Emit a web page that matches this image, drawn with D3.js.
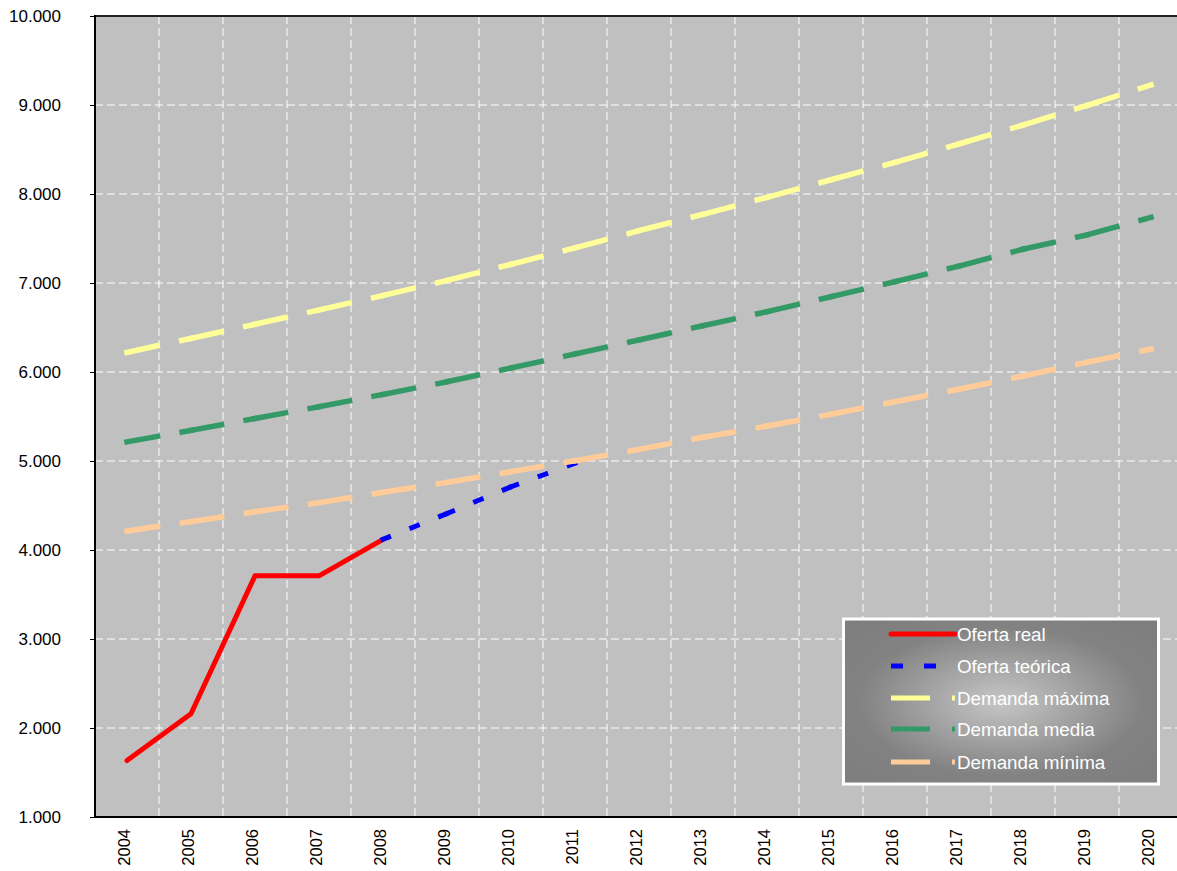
<!DOCTYPE html>
<html>
<head>
<meta charset="utf-8">
<script src="https://cdn.jsdelivr.net/npm/d3@7"></script>
<style>
  body { margin: 0; background: #fff; }
  svg { display: block; font-family: Arial, "Liberation Sans", sans-serif; }
</style>
</head>
<body>
<svg id="chart" width="1177" height="871"></svg>
<script>
// years on the category axis
const years = [2004, 2005, 2006, 2007, 2008, 2009, 2010, 2011, 2012, 2013, 2014, 2015, 2016, 2017, 2018, 2019, 2020];
const yTicks = [1000, 2000, 3000, 4000, 5000, 6000, 7000, 8000, 9000, 10000];

// series values (null = no value)
const ofertaReal = [1635, 2160, 3710, 3710, 4120, null, null, null, null, null, null, null, null, null, null, null, null];
const ofertaTeorica = [null, null, null, null, 4120, 4410, 4710, 4975, null, null, null, null, null, null, null, null, null];
const demandaMaxima = [6220, 6378, 6536, 6697, 6860, 7028, 7210, 7395, 7588, 7772, 7963, 8160, 8355, 8562, 8775, 8995, 9225];
const demandaMedia = [5215, 5344, 5478, 5610, 5748, 5890, 6045, 6202, 6360, 6520, 6678, 6846, 7015, 7190, 7380, 7540, 7738];
const demandaMinima = [4213, 4318, 4430, 4532, 4648, 4760, 4880, 5002, 5131, 5266, 5393, 5525, 5666, 5806, 5955, 6110, 6258];

const seriesNames = ['Oferta real', 'Oferta teórica', 'Demanda máxima', 'Demanda media', 'Demanda mínima'];

const series = [
    { name: seriesNames[0], values: ofertaReal, color: '#ff0000', width: 5, dash: null },
    { name: seriesNames[1], values: ofertaTeorica, color: '#0000ff', width: 5, dash: '6,25' },
    { name: seriesNames[2], values: demandaMaxima, color: '#ffff99', width: 5.5, dash: '31,25' },
    { name: seriesNames[3], values: demandaMedia, color: '#339966', width: 5.5, dash: '31,25' },
    { name: seriesNames[4], values: demandaMinima, color: '#ffcc99', width: 5.5, dash: '31,25' }
];

const plotLeft = 95, plotTop = 16, plotBottom = 817;
const bandW = 64;

const svg = d3.select('#chart');

const x = d3.scaleBand()
    .domain(years)
    .range([plotLeft, plotLeft + bandW * years.length])
    .padding(0);

const y = d3.scaleLinear()
    .domain([1000, 10000])
    .range([plotBottom, plotTop]);

const cx = yr => x(yr) + x.bandwidth() / 2;

// plot background
svg.append('rect')
    .attr('x', plotLeft)
    .attr('y', plotTop)
    .attr('width', bandW * years.length)
    .attr('height', plotBottom - plotTop)
    .attr('fill', '#c0c0c0');

// horizontal gridlines
svg.append('g')
    .selectAll('line')
    .data(yTicks.filter(t => t > 1000 && t < 10000))
    .enter()
    .append('line')
    .attr('x1', plotLeft)
    .attr('x2', 1177)
    .attr('y1', d => y(d))
    .attr('y2', d => y(d))
    .attr('stroke', '#ffffff')
    .attr('stroke-width', 1)
    .attr('stroke-dasharray', '8,4');

// vertical gridlines on category boundaries
svg.append('g')
    .selectAll('line')
    .data(years.slice(1))
    .enter()
    .append('line')
    .attr('x1', d => x(d))
    .attr('x2', d => x(d))
    .attr('y1', plotTop)
    .attr('y2', plotBottom)
    .attr('stroke', '#ffffff')
    .attr('stroke-width', 1)
    .attr('stroke-dasharray', '8,4');

// y axis
const yAxis = d3.axisLeft(y)
    .tickValues(yTicks)
    .tickSize(5)
    .tickFormat(d => d3.format(',')(d).replace(/,/g, '.'));

const yg = svg.append('g')
    .attr('transform', `translate(${plotLeft},0)`)
    .call(yAxis);
yg.select('.domain').remove();
yg.selectAll('.tick line').attr('stroke', '#000');
yg.selectAll('.tick text')
    .attr('x', -34)
    .attr('font-size', '17px')
    .attr('font-family', 'Arial, "Liberation Sans", sans-serif')
    .attr('fill', '#000');

// x labels (rotated)
svg.append('g')
    .selectAll('text')
    .data(years)
    .enter()
    .append('text')
    .text(d => d)
    .attr('transform', d => `translate(${cx(d) - 3},829) rotate(-90)`)
    .attr('text-anchor', 'end')
    .attr('dy', '0.35em')
    .attr('font-size', '16.5px')
    .attr('fill', '#000');

// plot frame
svg.append('line')
    .attr('x1', plotLeft).attr('x2', 1177)
    .attr('y1', plotTop).attr('y2', plotTop)
    .attr('stroke', '#222').attr('stroke-width', 2);
svg.append('line')
    .attr('x1', plotLeft).attr('x2', 1177)
    .attr('y1', plotBottom).attr('y2', plotBottom)
    .attr('stroke', '#000').attr('stroke-width', 2);
svg.append('line')
    .attr('x1', plotLeft).attr('x2', plotLeft)
    .attr('y1', plotTop - 1).attr('y2', plotBottom + 1)
    .attr('stroke', '#000').attr('stroke-width', 2);

// series lines
const lineGen = d3.line()
    .x(d => cx(d.year))
    .y(d => y(d.value));

series.forEach(s => {
    const pts = years.map((yr, i) => ({ year: yr, value: s.values[i] }))
        .filter(d => d.value != null);
    const g = svg.append('g');
    if (!s.dash) {
        g.append('path')
            .datum(pts)
            .attr('d', lineGen)
            .attr('fill', 'none')
            .attr('stroke', s.color)
            .attr('stroke-width', s.width)
            .attr('stroke-linejoin', 'round')
            .attr('stroke-linecap', 'round');
    } else {
        // dash pattern restarts on each segment
        const segs = d3.pairs(pts);
        g.selectAll('path')
            .data(segs)
            .enter()
            .append('path')
            .attr('d', d => lineGen(d))
            .attr('fill', 'none')
            .attr('stroke', s.color)
            .attr('stroke-width', s.width)
            .attr('stroke-linecap', 'square')
            .attr('stroke-dasharray', s.dash);
    }
});

// legend
const defs = svg.append('defs');
const grad = defs.append('radialGradient')
    .attr('id', 'legendGrad')
    .attr('cx', '50%').attr('cy', '50%').attr('r', '60%');
grad.append('stop').attr('offset', '0%').attr('stop-color', '#c6c6c6');
grad.append('stop').attr('offset', '75%').attr('stop-color', '#828282');
grad.append('stop').attr('offset', '100%').attr('stop-color', '#7f7f7f');

const legend = svg.append('g');
legend.append('rect')
    .attr('x', 843.5)
    .attr('y', 619)
    .attr('width', 315)
    .attr('height', 165)
    .attr('fill', 'url(#legendGrad)')
    .attr('stroke', '#ffffff')
    .attr('stroke-width', 3);

const legendRows = [634, 666, 698, 729, 762];
const legendDash = [null, '12,21', '39,22', '39,22', '39,22'];

const item = legend.selectAll('g.item')
    .data(series)
    .enter()
    .append('g')
    .attr('class', 'item')
    .attr('transform', (d, i) => `translate(0,${legendRows[i]})`);

item.append('line')
    .attr('x1', 891)
    .attr('x2', 955)
    .attr('stroke', d => d.color)
    .attr('stroke-width', 5)
    .attr('stroke-linecap', (d, i) => i === 0 ? 'round' : 'butt')
    .attr('stroke-dasharray', (d, i) => legendDash[i]);

item.append('text')
    .text(d => d.name)
    .attr('x', 957)
    .attr('dy', '0.35em')
    .attr('font-size', '18.8px')
    .attr('fill', '#ffffff');
</script>
</body>
</html>
